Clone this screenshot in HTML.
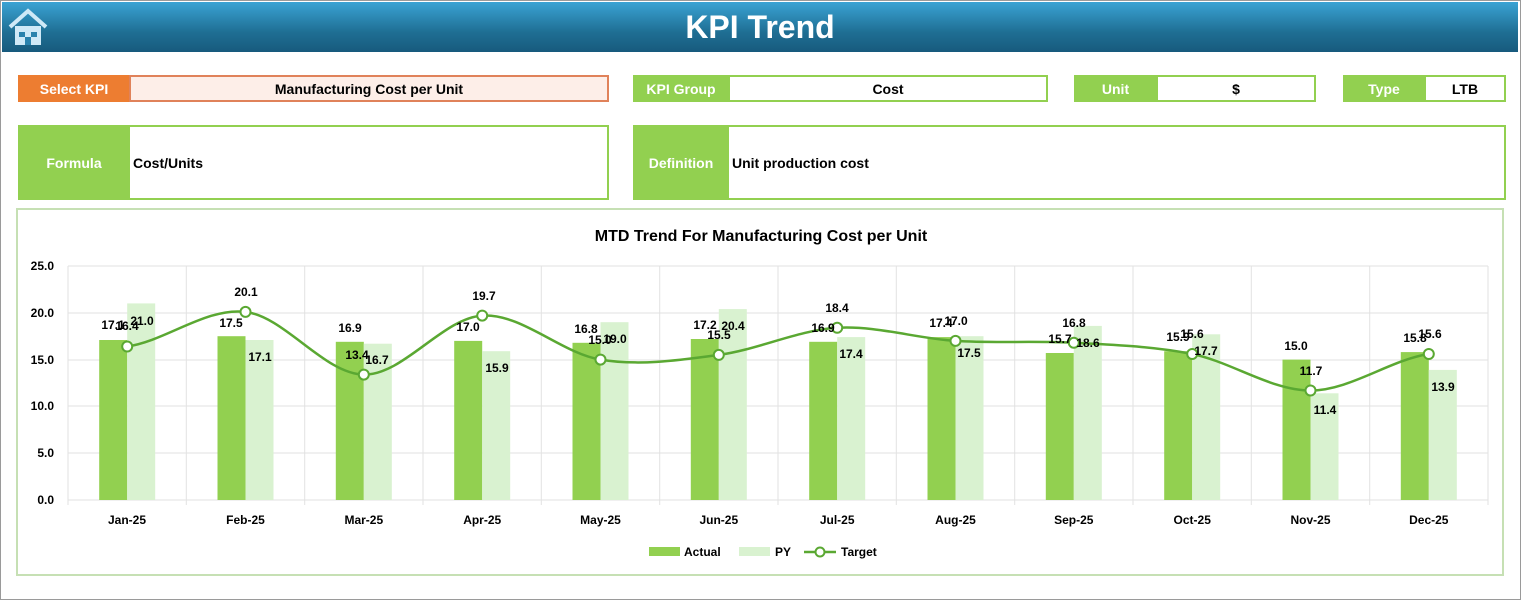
<!DOCTYPE html>
<html><head><meta charset="utf-8"><style>
body{margin:0;width:1521px;height:600px;overflow:hidden;background:#fff;font-family:"Liberation Sans",sans-serif;position:relative}
.frame{position:absolute;left:0;top:0;width:1519px;height:598px;border:1px solid #9a9a9a}
.hdr{position:absolute;left:2px;top:2px;width:1516px;height:50px;background:linear-gradient(#3aa3d4,#1f6f94 60%,#175a7d)}
.hdr h1{margin:0;text-align:center;color:#fff;font-size:32px;line-height:50px;font-weight:bold}
.b{position:absolute;box-sizing:border-box;font-weight:bold;font-size:14px;display:flex;align-items:center}
.lab{background:#92d050;color:#fff;justify-content:center}
.val{border:2px solid #92d050;background:#fff;color:#000}
</style></head><body>
<div class="frame"></div>
<div class="hdr"><h1>KPI Trend</h1>
<svg style="position:absolute;left:5px;top:5px" width="42" height="40" viewBox="0 0 42 40"><path d="M3 20 L21 4 L39 20" fill="none" stroke="#cfe9f7" stroke-width="4"/><rect x="8" y="19" width="26" height="19" fill="#cfe9f7"/><rect x="12" y="25" width="6" height="5" fill="#2a82ad"/><rect x="24" y="25" width="6" height="5" fill="#2a82ad"/><rect x="18" y="30" width="6" height="8" fill="#2a82ad"/></svg></div>

<div class="b" style="left:18px;top:75px;width:112px;height:27px;background:#ed7d31;color:#fff;justify-content:center">Select KPI</div>
<div class="b" style="left:129px;top:75px;width:480px;height:27px;background:#fdeee8;border:2px solid #e0825a;justify-content:center">Manufacturing Cost per Unit</div>
<div class="b lab" style="left:633px;top:75px;width:96px;height:27px">KPI Group</div>
<div class="b val" style="left:728px;top:75px;width:320px;height:27px;justify-content:center">Cost</div>
<div class="b lab" style="left:1074px;top:75px;width:83px;height:27px">Unit</div>
<div class="b val" style="left:1156px;top:75px;width:160px;height:27px;justify-content:center">$</div>
<div class="b lab" style="left:1343px;top:75px;width:82px;height:27px">Type</div>
<div class="b val" style="left:1424px;top:75px;width:82px;height:27px;justify-content:center">LTB</div>

<div class="b lab" style="left:18px;top:125px;width:112px;height:75px">Formula</div>
<div class="b val" style="left:128px;top:125px;width:481px;height:75px;padding-left:3px">Cost/Units</div>
<div class="b lab" style="left:633px;top:125px;width:96px;height:75px">Definition</div>
<div class="b val" style="left:727px;top:125px;width:779px;height:75px;padding-left:3px">Unit production cost</div>

<div style="position:absolute;left:16px;top:208px;width:1488px;height:368px;border:2px solid #c6e0b4;box-sizing:border-box"></div>

<svg style="position:absolute;left:0;top:0" width="1521" height="600" font-family="Liberation Sans,sans-serif" font-weight="bold">
<text x="761" y="241" text-anchor="middle" font-size="16" fill="#000">MTD Trend For Manufacturing Cost per Unit</text>
<g stroke="#e2e2e2" stroke-width="1">
<line x1="68" y1="266" x2="1488" y2="266"/><line x1="68" y1="313" x2="1488" y2="313"/><line x1="68" y1="360" x2="1488" y2="360"/><line x1="68" y1="406" x2="1488" y2="406"/><line x1="68" y1="453" x2="1488" y2="453"/><line x1="68" y1="500" x2="1488" y2="500"/>
<line x1="68" y1="266" x2="68" y2="505"/><line x1="186.3" y1="266" x2="186.3" y2="505"/><line x1="304.7" y1="266" x2="304.7" y2="505"/><line x1="423" y1="266" x2="423" y2="505"/><line x1="541.3" y1="266" x2="541.3" y2="505"/><line x1="659.7" y1="266" x2="659.7" y2="505"/><line x1="778" y1="266" x2="778" y2="505"/><line x1="896.3" y1="266" x2="896.3" y2="505"/><line x1="1014.7" y1="266" x2="1014.7" y2="505"/><line x1="1133" y1="266" x2="1133" y2="505"/><line x1="1251.3" y1="266" x2="1251.3" y2="505"/><line x1="1369.7" y1="266" x2="1369.7" y2="505"/><line x1="1488" y1="266" x2="1488" y2="505"/>
</g>
<g font-size="12" text-anchor="end" fill="#000">
<text x="54" y="270">25.0</text><text x="54" y="317">20.0</text><text x="54" y="364">15.0</text><text x="54" y="410">10.0</text><text x="54" y="457">5.0</text><text x="54" y="504">0.0</text></g>
<g fill="#92d050">
<rect x="99.2" y="340" width="28" height="160"/><rect x="217.5" y="336.2" width="28" height="163.8"/><rect x="335.8" y="341.8" width="28" height="158.2"/><rect x="454.2" y="340.9" width="28" height="159.1"/><rect x="572.5" y="342.8" width="28" height="157.2"/><rect x="690.8" y="339" width="28" height="161"/><rect x="809.2" y="341.8" width="28" height="158.2"/><rect x="927.5" y="337.1" width="28" height="162.9"/><rect x="1045.8" y="353" width="28" height="147"/><rect x="1164.2" y="351.2" width="28" height="148.8"/><rect x="1282.5" y="359.6" width="28" height="140.4"/><rect x="1400.8" y="352.1" width="28" height="147.9"/></g>
<g fill="#d9f2d0">
<rect x="127.2" y="303.4" width="28" height="196.6"/><rect x="245.5" y="340" width="28" height="160"/><rect x="363.8" y="343.7" width="28" height="156.3"/><rect x="482.2" y="351.2" width="28" height="148.8"/><rect x="600.5" y="322.2" width="28" height="177.8"/><rect x="718.8" y="309.1" width="28" height="190.9"/><rect x="837.2" y="337.1" width="28" height="162.9"/><rect x="955.5" y="336.2" width="28" height="163.8"/><rect x="1073.8" y="325.9" width="28" height="174.1"/><rect x="1192.2" y="334.3" width="28" height="165.7"/><rect x="1310.5" y="393.3" width="28" height="106.7"/><rect x="1428.8" y="369.9" width="28" height="130.1"/></g>
<path d="M127.2 346.5 C166.6 340.7 206.1 307.2 245.5 311.9 C284.9 316.6 324.4 374 363.8 374.6 C403.2 375.2 442.8 318.1 482.2 315.6 C521.6 313.1 561.1 353.1 600.5 359.6 C639.9 366.1 679.4 360.2 718.8 354.9 C758.2 349.6 797.8 330.1 837.2 327.8 C876.6 325.5 916.1 338.4 955.5 340.9 C994.9 343.4 1034.4 340.6 1073.8 342.8 C1113.2 345 1152.8 346.1 1192.2 354 C1231.6 362 1271.1 390.5 1310.5 390.5 C1349.9 390.5 1389.4 360.1 1428.8 354" fill="none" stroke="#5aa832" stroke-width="2.5"/>
<g fill="#fff" stroke="#5aa832" stroke-width="2">
<circle cx="127.2" cy="346.5" r="5"/><circle cx="245.5" cy="311.9" r="5"/><circle cx="363.8" cy="374.6" r="5"/><circle cx="482.2" cy="315.6" r="5"/><circle cx="600.5" cy="359.6" r="5"/><circle cx="718.8" cy="354.9" r="5"/><circle cx="837.2" cy="327.8" r="5"/><circle cx="955.5" cy="340.9" r="5"/><circle cx="1073.8" cy="342.8" r="5"/><circle cx="1192.2" cy="354" r="5"/><circle cx="1310.5" cy="390.5" r="5"/><circle cx="1428.8" cy="354" r="5"/></g>
<g font-size="12" text-anchor="middle" fill="#000">
<text x="113" y="329">17.1</text><text x="231" y="327">17.5</text><text x="350" y="332">16.9</text><text x="468" y="331">17.0</text><text x="586" y="333">16.8</text><text x="705" y="329">17.2</text><text x="823" y="332">16.9</text><text x="941" y="327">17.4</text><text x="1060" y="343">15.7</text><text x="1178" y="341">15.9</text><text x="1296" y="350">15.0</text><text x="1415" y="342">15.8</text>
<text x="142" y="325">21.0</text><text x="260" y="361">17.1</text><text x="377" y="364">16.7</text><text x="497" y="372">15.9</text><text x="615" y="343">19.0</text><text x="733" y="330">20.4</text><text x="851" y="358">17.4</text><text x="969" y="357">17.5</text><text x="1088" y="347">18.6</text><text x="1206" y="355">17.7</text><text x="1325" y="414">11.4</text><text x="1443" y="391">13.9</text>
<text x="127" y="330">16.4</text><text x="246" y="296">20.1</text><text x="357" y="359">13.4</text><text x="484" y="300">19.7</text><text x="600" y="344">15.0</text><text x="719" y="339">15.5</text><text x="837" y="312">18.4</text><text x="956" y="325">17.0</text><text x="1074" y="327">16.8</text><text x="1192" y="338">15.6</text><text x="1311" y="375">11.7</text><text x="1430" y="338">15.6</text>
<text x="127" y="524">Jan-25</text><text x="245.5" y="524">Feb-25</text><text x="363.8" y="524">Mar-25</text><text x="482.2" y="524">Apr-25</text><text x="600.5" y="524">May-25</text><text x="718.8" y="524">Jun-25</text><text x="837.2" y="524">Jul-25</text><text x="955.5" y="524">Aug-25</text><text x="1073.8" y="524">Sep-25</text><text x="1192.2" y="524">Oct-25</text><text x="1310.5" y="524">Nov-25</text><text x="1428.8" y="524">Dec-25</text></g>
<rect x="649" y="547" width="31" height="9" fill="#92d050"/><text x="684" y="556" font-size="12">Actual</text>
<rect x="739" y="547" width="31" height="9" fill="#d9f2d0"/><text x="775" y="556" font-size="12">PY</text>
<line x1="804" y1="552" x2="836" y2="552" stroke="#5aa832" stroke-width="2.5"/><circle cx="820" cy="552" r="4.5" fill="#fff" stroke="#5aa832" stroke-width="2"/><text x="841" y="556" font-size="12">Target</text>
</svg>
</body></html>
